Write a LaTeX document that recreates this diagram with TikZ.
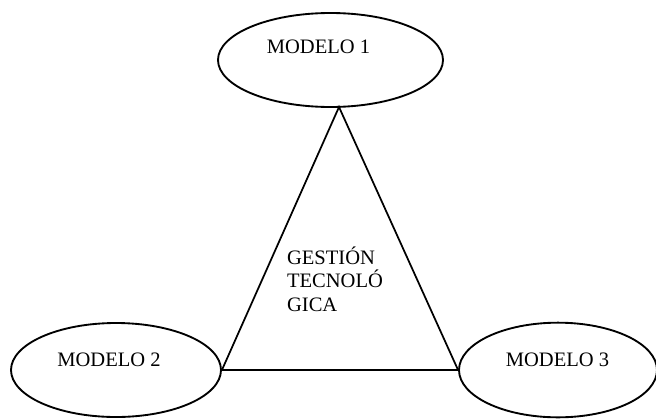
\documentclass[tikz,border=0pt]{standalone}
\usepackage{fontspec}
\setmainfont{Liberation Serif}
\usetikzlibrary{shapes.geometric}
\tikzset{
  modelo/.style={draw=black, line width=1.4pt, ellipse, inner sep=0pt},
  lbl/.style={font=\fontsize{15.4}{17.6}\selectfont, inner sep=0pt},
  edge/.style={draw=black, line width=1.3pt}
}
\begin{document}
\begin{tikzpicture}[x=0.75pt,y=-0.75pt]
\useasboundingbox (0,0) rectangle (656,418);
\node[modelo, minimum width=168.75pt, minimum height=70.5pt] (m1) at (330.5,60) {};
\node[modelo, minimum width=157.5pt, minimum height=70.5pt] (m2) at (116,370) {};
\node[modelo, minimum width=148.5pt, minimum height=71pt] (m3) at (558,370) {};
\node[lbl] (t1) at (318.5,47) {MODELO 1};
\node[lbl] (t2) at (109,360) {MODELO 2};
\node[lbl] (t3) at (557.5,360) {MODELO 3};
\coordinate (apex) at (339,107);
\coordinate (bl) at (m2.east);
\coordinate (br) at (m3.west);
\draw[edge] (apex) -- (bl) -- (br) -- cycle;
\node[lbl, align=left] (g) at (335,279) {GESTIÓN\\TECNOLÓ\\GICA};
\end{tikzpicture}
\end{document}
